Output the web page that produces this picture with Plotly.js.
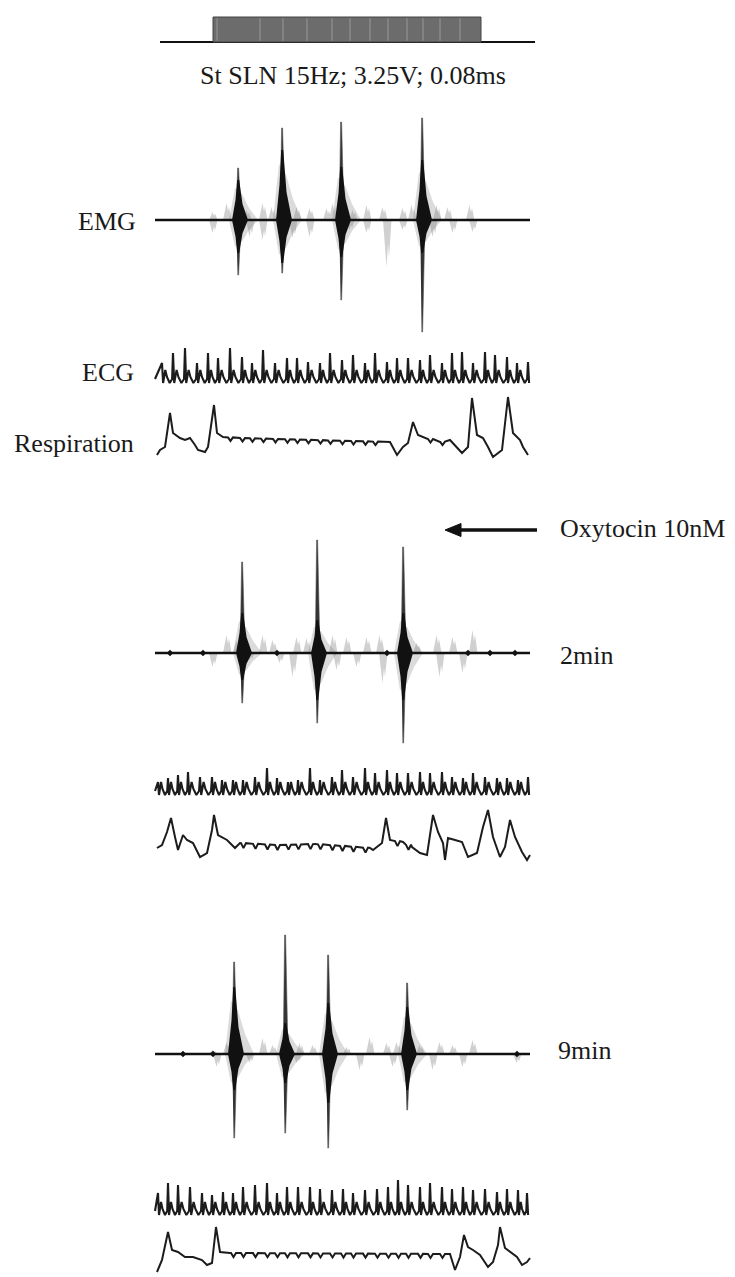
<!DOCTYPE html>
<html><head><meta charset="utf-8">
<script src="https://cdn.plot.ly/plotly-3.0.1.min.js"></script>
<style>html,body{margin:0;padding:0;background:#fff}#chart{width:735px;height:1277px}</style>
</head><body><div id="chart"></div>
<script>
const W = 735, H = 1277;

// ---------- DATA (time in s, amplitudes in arbitrary units) ----------
const recStart = 0, recEnd = 37.5;
// stimulus
const stimLineStart = 0.5, stimLineEnd = 38.0;
const stimOn = 5.8, stimOff = 32.6;
const stimPulseMarks = [6.2, 10.5, 12.8, 15.2, 17.7, 19.5, 21.5, 23.3, 25.2, 26.8, 28.5, 30.5];

// EMG – control
const emg1T      = [8.3, 12.7, 18.6, 26.7];
const emg1Up     = [5.2, 9.2, 9.8, 10.2];
const emg1Dn     = [5.5, 5.3, 8.0, 11.2];
const emg1CoreUp = [4.0, 7.0, 5.3, 6.0];
const emg1CoreDn = [3.3, 4.3, 3.7, 3.3];
const emg1BgT = [5.8, 7.2, 9.2, 10.8, 11.7, 14.2, 15.5, 17.2, 17.8, 19.8, 21.2, 22.8, 24.8, 25.7, 28.2, 29.3, 31.5,
                 5.8, 9.5, 10.8, 13.8, 15.5, 19.5, 21.2, 23.2, 24.8, 27.8, 29.8, 31.8];
const emg1BgA = [0.8, 1.7, 1.0, 1.7, 1.3, 1.3, 1.2, 1.2, 1.7, 1.0, 1.5, 1.3, 1.2, 1.5, 1.5, 1.3, 1.5,
                 -1.3, -1.7, -2.0, -1.8, -1.7, -1.0, -1.3, -4.7, -1.0, -1.7, -1.3, -1.2];
const emg1Dots = [];

// EMG – 2 min
const emg2T      = [8.7, 16.2, 24.8];
const emg2Up     = [9.1, 11.3, 10.6];
const emg2Dn     = [5.0, 7.0, 9.0];
const emg2CoreUp = [4.0, 3.3, 4.0];
const emg2CoreDn = [2.7, 4.7, 4.7];
const emg2BgT = [7.2, 8.2, 10.8, 11.8, 14.2, 15.2, 17.8, 19.2, 21.2, 22.5, 26.2, 28.2, 29.8, 31.8,
                 5.8, 9.5, 12.5, 13.8, 18.2, 20.2, 22.8, 28.5, 30.8];
const emg2BgA = [1.8, 1.3, 1.8, 1.3, 1.6, 1.5, 1.8, 1.6, 1.6, 1.8, 1.0, 1.8, 1.6, 2.3,
                 -1.4, -0.7, -1.0, -2.4, -1.7, -1.4, -3.0, -2.4, -2.0];
const emg2Dots = [1.5, 4.8, 12.2, 23.2, 31.3, 33.5, 36.0];

// EMG – 9 min
const emg3T      = [7.9, 13.0, 17.3, 25.2];
const emg3Up     = [9.2, 11.9, 9.9, 7.1];
const emg3Dn     = [8.4, 7.9, 9.4, 5.6];
const emg3CoreUp = [6.7, 3.1, 5.1, 4.7];
const emg3CoreDn = [3.6, 2.9, 4.9, 3.6];
const emg3BgT = [5.8, 7.2, 10.8, 11.8, 14.5, 15.8, 19.2, 21.5, 23.2, 24.2, 26.5, 28.5, 29.8, 31.8,
                 6.2, 9.5, 14.2, 20.5, 23.8, 27.8, 30.8, 36.2];
const emg3BgA = [0.4, 1.2, 1.6, 0.9, 1.1, 0.9, 0.7, 1.7, 1.1, 1.2, 0.9, 1.2, 0.9, 1.4,
                 -1.3, -0.9, -0.9, -1.6, -1.3, -1.6, -1.3, -0.9];
const emg3Dots = [2.8, 5.8, 36.2];

// ECG beats: time of R peak, peak amplitude
const ecg1T = [0.7, 1.8, 3.0, 4.2, 5.3, 6.3, 7.5, 8.7, 9.7, 10.8, 12.0, 13.2, 14.2, 15.3, 16.5, 17.5, 18.7,
               19.8, 21.0, 22.0, 23.2, 24.2, 25.3, 26.5, 27.5, 28.7, 29.7, 30.7, 31.8, 33.0, 34.0, 35.2, 36.2, 37.3];
const ecg1A = [1.3, 2.3, 2.8, 1.3, 2.3, 1.8, 2.8, 1.9, 1.3, 2.6, 1.3, 1.8, 1.8, 1.4, 1.3, 2.3, 1.6,
               2.1, 1.3, 2.3, 1.4, 1.8, 1.8, 1.6, 2.1, 1.3, 2.3, 2.4, 1.3, 2.4, 2.1, 1.9, 1.3, 1.4];
const ecg2T = [0.3, 1.3, 2.3, 3.3, 4.5, 5.7, 6.7, 7.8, 8.8, 10.0, 11.2, 12.2, 13.3, 14.3, 15.5, 16.5, 17.7, 18.7,
               19.8, 21.0, 22.0, 23.2, 24.2, 25.3, 26.5, 27.5, 28.7, 29.7, 30.8, 31.8, 33.0, 34.2, 35.2, 36.3, 37.3];
const ecg2A = [0.6, 1.0, 1.3, 1.6, 1.1, 1.1, 0.8, 0.8, 0.8, 1.1, 2.0, 1.0, 0.6, 0.8, 2.0, 0.8, 1.1, 1.8,
               1.1, 2.0, 1.5, 1.8, 1.5, 1.5, 1.6, 1.5, 1.6, 1.1, 1.0, 1.5, 1.1, 1.0, 1.0, 0.8, 1.1];
const ecg3T = [0.3, 1.3, 2.3, 3.5, 4.7, 5.7, 6.8, 7.8, 8.8, 10.0, 11.2, 12.2, 13.2, 14.3, 15.5, 16.5, 17.7, 18.8,
               19.8, 21.0, 22.2, 23.3, 24.3, 25.3, 26.5, 27.5, 28.7, 29.7, 30.8, 31.8, 33.0, 34.2, 35.2, 36.3, 37.2];
const ecg3A = [1.5, 2.5, 2.3, 2.1, 1.5, 1.3, 1.6, 1.5, 2.1, 2.3, 2.5, 1.5, 2.1, 2.1, 2.1, 1.9, 1.8, 1.9,
               1.5, 1.8, 1.9, 2.1, 2.8, 2.3, 2.1, 2.5, 2.1, 1.9, 2.1, 1.8, 1.9, 1.6, 1.9, 1.8, 1.5];

// Respiration key points
const resp1T = [0.2, 0.5, 1.0, 1.5, 1.8, 2.5, 3.0, 3.5, 4.0, 4.3, 5.0, 5.3, 5.9, 6.2, 6.8, 8.5, 23.5, 24.2, 24.8, 25.3,
                25.8, 26.3, 27.2, 27.8, 28.5, 29.5, 30.2, 30.7, 31.3, 31.7, 32.2, 32.8, 33.3, 33.8, 34.7, 35.0, 35.3,
                35.8, 36.5, 36.8, 37.3];
const resp1V = [-1.5, -1.0, -0.7, 2.7, 0.7, 0.2, 0.0, 0.2, -0.5, -1.0, -1.2, -0.7, 3.5, 0.7, 0.3, 0.2, -0.2, -1.5, -0.7, -0.3,
                1.8, 0.5, 0.2, 0.0, -0.2, 0.0, -0.7, -1.3, -0.7, 4.2, 0.5, 0.2, -0.7, -1.7, -1.0, 2.0, 4.3,
                0.7, 0.0, -0.7, -1.5];
const resp1Flat = [[7.2, 23.0], [26.9, 29.6]];
const resp2T = [0.2, 0.7, 1.2, 1.6, 2.0, 2.3, 2.8, 3.2, 3.8, 4.5, 5.2, 5.7, 5.9, 6.3, 7.2, 8.0, 8.5, 12.0, 16.0, 21.5,
                21.8, 22.7, 23.1, 23.5, 24.8, 25.7, 26.5, 27.2, 27.8, 28.3, 28.8, 29.0, 29.3, 30.0, 30.7, 31.3, 32.2,
                32.8, 33.3, 33.8, 34.5, 35.0, 35.5, 36.0, 36.7, 37.2, 37.5];
const resp2V = [-0.3, 0.0, 1.3, 2.7, 0.8, -0.5, 1.0, 0.5, 0.2, -1.2, -0.8, 1.5, 3.0, 1.0, 0.5, -0.3, 0.2, 0.0, 0.1, -0.3,
                -0.5, 0.2, 2.7, 0.5, 0.3, -0.2, -0.8, -1.0, 3.0, 1.3, 0.2, -1.5, 0.7, 0.5, 0.3, -1.2, -0.8,
                1.8, 3.5, 0.8, -1.2, -0.2, 2.5, 0.8, -0.7, -1.5, -1.0];
const resp2Flat = [[8.7, 21.3], [23.9, 25.6]];
const resp3T = [0.2, 0.7, 1.3, 1.7, 2.3, 3.0, 3.8, 4.7, 5.2, 5.7, 6.1, 6.5, 7.5, 29.5, 30.0, 30.5, 30.9, 31.3, 31.8,
                32.5, 33.3, 33.8, 34.3, 34.5, 35.0, 35.5, 36.2, 36.7, 37.2, 37.5];
const resp3V = [-1.9, -0.7, 2.1, 0.3, 0.1, -0.4, -0.4, -0.7, -1.2, -1.0, 2.6, 0.1, 0.0, -0.1, -1.7, -0.4, 1.8, 0.6, 0.3,
                -0.2, -1.4, -0.9, 0.8, 2.6, 0.5, 0.1, -0.4, -1.2, -0.9, -0.5];
const resp3Flat = [[7.6, 29.3]];

// labels
const stimLabel = 'St SLN 15Hz; 3.25V; 0.08ms';
const leftLabels = ['EMG', 'ECG', 'Respiration'];
const drugLabel = 'Oxytocin 10nM';
const timeLabels = ['2min', '9min'];

// ---------- helpers ----------
function yAx(topPx, botPx, basePx, pxPerUnit) {
  const k = pxPerUnit || 10;
  return {domain: [1 - botPx / H, 1 - topPx / H], range: [-(botPx - basePx) / k, (basePx - topPx) / k],
          visible: false, fixedrange: true, anchor: 'x'};
}
const traces = [];
function add(yref, x, y, opts) {
  traces.push(Object.assign({type: 'scatter', mode: 'lines', x: x, y: y, xaxis: 'x', yaxis: yref,
    hoverinfo: 'skip', showlegend: false}, opts));
}
function polyTrace(yref, list, color, lineColor, lw) {
  const xs = [], ys = [];
  list.forEach(poly => { poly.forEach(p => { xs.push(p[0]); ys.push(p[1]); }); xs.push(null); ys.push(null); });
  add(yref, xs, ys, {fill: 'toself', fillcolor: color, line: {color: lineColor || color, width: lw || 0}});
}
function emg(yref, T, Up, Dn, CU, CD, bgT, bgA, dots) {
  // background activity
  polyTrace(yref, bgT.map((t, i) => [[t - 0.4, 0], [t - 0.15, bgA[i] * 0.6], [t - 0.05, bgA[i]], [t + 0.1, bgA[i] * 0.5],
            [t + 0.2, bgA[i] * 0.8], [t + 0.45, 0]]), 'rgba(150,150,150,0.45)');
  // halo
  polyTrace(yref, T.map((t, i) => [[t - 0.9, 0], [t - 0.3, CU[i] * 0.8], [t + 0.4, CU[i] * 0.65], [t + 1.1, CU[i] * 0.3],
            [t + 2.0, 0], [t + 1.1, -CD[i] * 0.3], [t + 0.4, -CD[i] * 0.65], [t - 0.3, -CD[i] * 0.8]]),
            'rgba(110,110,110,0.25)');
  // baseline
  add(yref, [recStart, recEnd], [0, 0], {line: {color: '#111', width: 2.6}});
  // spikes
  polyTrace(yref, T.map((t, i) => [[t - 0.18, 0], [t - 0.04, Up[i]], [t + 0.06, Up[i]], [t + 0.3, 0],
            [t + 0.06, -Dn[i]], [t - 0.04, -Dn[i]]]), '#333', '#555', 0.6);
  // dark cores
  polyTrace(yref, T.map((t, i) => [[t - 0.6, 0], [t - 0.25, CU[i] * 0.5], [t - 0.08, CU[i]], [t + 0.12, CU[i]],
            [t + 0.45, CU[i] * 0.4], [t + 1.0, 0], [t + 0.45, -CD[i] * 0.4], [t + 0.12, -CD[i]], [t - 0.08, -CD[i]],
            [t - 0.25, -CD[i] * 0.5]]), '#111');
  if (dots.length) add(yref, dots, dots.map(() => 0), {mode: 'markers', marker: {color: '#111', size: 5, symbol: 'diamond'}});
}
function ecg(yref, T, A) {
  const xs = [recStart], ys = [-0.3];
  const shape = [[0, null], [0.1, -0.7], [0.3, 0.6], [0.45, -0.1], [0.7, -0.7], [0.92, -0.3]];
  T.forEach((t, i) => {
    const P = i + 1 < T.length ? T[i + 1] - t : 1.1;
    shape.forEach(s => { const tt = t + s[0] * P; if (tt <= recEnd) { xs.push(tt); ys.push(s[1] === null ? A[i] : s[1]); } });
  });
  add(yref, xs, ys, {line: {color: '#1c1c1c', width: 2.1}});
}
function resp(yref, KT, KV, flat, beats, depth) {
  const pts = KT.map((t, i) => [t, KV[i]]);
  const base = t => { for (let i = 0; i < KT.length - 1; i++) if (t >= KT[i] && t <= KT[i + 1])
      return KV[i] + (KV[i + 1] - KV[i]) * (t - KT[i]) / (KT[i + 1] - KT[i]); return 0; };
  beats.filter(t => flat.some(r => t >= r[0] && t <= r[1])).forEach(t => {
    const b = base(t); pts.push([t - 0.2, b], [t + 0.05, b - depth], [t + 0.3, b]);
  });
  pts.sort((a, b) => a[0] - b[0]);
  add(yref, pts.map(p => p[0]), pts.map(p => p[1]), {line: {color: '#1c1c1c', width: 2.0}});
}

// ---------- stimulus ----------
add('y', [stimLineStart, stimLineEnd], [0, 0], {line: {color: '#111', width: 2.2}});
add('y', [stimOn, stimOn, stimOff, stimOff, stimOn], [0, 1, 1, 0, 0],
    {fill: 'toself', fillcolor: '#6c6c6c', line: {color: '#444', width: 1}});
const pmx = [], pmy = [];
stimPulseMarks.forEach(t => { pmx.push(t, t, null); pmy.push(0.05, 0.95, null); });
add('y', pmx, pmy, {line: {color: '#999', width: 1}});

// ---------- panels ----------
emg('y2', emg1T, emg1Up, emg1Dn, emg1CoreUp, emg1CoreDn, emg1BgT, emg1BgA, emg1Dots);
ecg('y3', ecg1T, ecg1A);
resp('y4', resp1T, resp1V, resp1Flat, ecg1T, 0.35);
emg('y5', emg2T, emg2Up, emg2Dn, emg2CoreUp, emg2CoreDn, emg2BgT, emg2BgA, emg2Dots);
ecg('y6', ecg2T, ecg2A);
resp('y7', resp2T, resp2V, resp2Flat, ecg2T, 0.5);
emg('y8', emg3T, emg3Up, emg3Dn, emg3CoreUp, emg3CoreDn, emg3BgT, emg3BgA, emg3Dots);
ecg('y9', ecg3T, ecg3A);
resp('y10', resp3T, resp3V, resp3Flat, ecg3T, 0.4);

// ---------- layout ----------
const font = {family: 'Liberation Serif, Times New Roman, serif', size: 26, color: '#1a1a1a'};
const PX = px => px / W, PY = py => 1 - py / H;
function lab(text, px, py, anchor) {
  return {text: text, x: PX(px), y: PY(py), xref: 'paper', yref: 'paper', xanchor: anchor, yanchor: 'middle',
          showarrow: false, font: font};
}
const layout = {
  width: W, height: H, margin: {l: 0, r: 0, t: 0, b: 0},
  paper_bgcolor: '#fff', plot_bgcolor: 'rgba(0,0,0,0)', showlegend: false,
  xaxis: {range: [-15.5, 58.0], visible: false, fixedrange: true, domain: [0, 1]},
  yaxis: yAx(8, 50, 42, 25),
  yaxis2: yAx(100, 345, 220),
  yaxis3: yAx(340, 392, 376),
  yaxis4: yAx(392, 463, 440),
  yaxis5: yAx(525, 760, 653),
  yaxis6: yAx(760, 802, 788),
  yaxis7: yAx(802, 868, 845),
  yaxis8: yAx(915, 1162, 1054),
  yaxis9: yAx(1168, 1222, 1208),
  yaxis10: yAx(1222, 1277, 1253),
  annotations: [
    lab(stimLabel, 353, 75, 'center'),
    lab(leftLabels[0], 138, 222, 'right'),
    lab(leftLabels[1], 136, 372, 'right'),
    lab(leftLabels[2], 136, 443, 'right'),
    lab(drugLabel, 558, 528, 'left'),
    lab(timeLabels[0], 558, 655, 'left'),
    lab(timeLabels[1], 556, 1050, 'left')
  ],
  shapes: [
    {type: 'line', xref: 'paper', yref: 'paper', x0: PX(456), x1: PX(537), y0: PY(530), y1: PY(530),
     line: {color: '#111', width: 3.5}},
    {type: 'path', xref: 'paper', yref: 'paper',
     path: `M ${PX(445)},${PY(530)} L ${PX(461)},${PY(523.5)} L ${PX(461)},${PY(536.5)} Z`,
     fillcolor: '#111', line: {color: '#111', width: 1}}
  ]
};
Plotly.newPlot('chart', traces, layout, {staticPlot: true, displayModeBar: false});
</script></body></html>
